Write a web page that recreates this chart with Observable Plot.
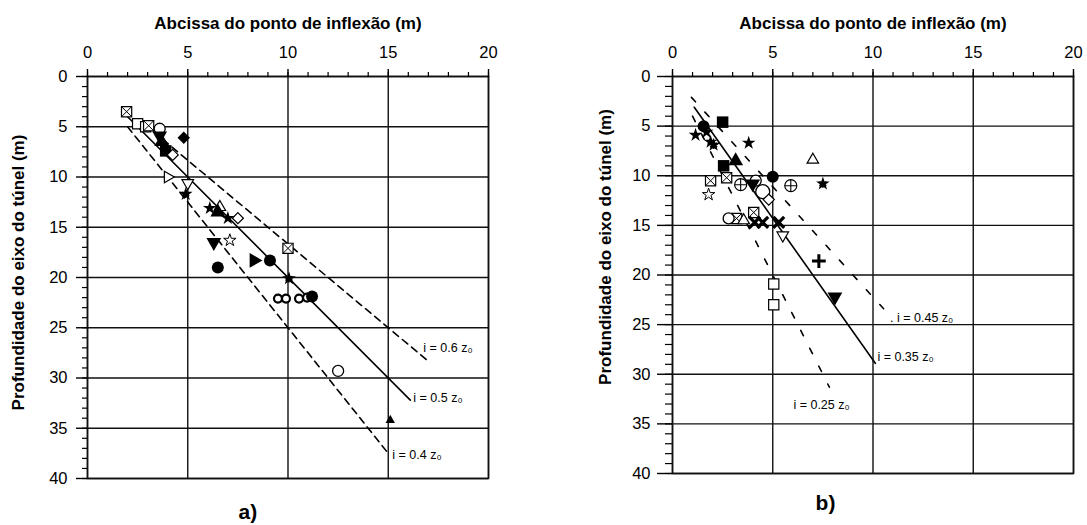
<!DOCTYPE html>
<html><head><meta charset="utf-8">
<script src="https://cdn.jsdelivr.net/npm/d3@7"></script>
<script src="https://cdn.jsdelivr.net/npm/@observablehq/plot@0.6"></script>
<style>
body{margin:0;background:#fff;}
#wrap{display:flex;width:1087px;height:525px;overflow:hidden;}
#a{width:543px;} #b{width:544px;}
</style></head><body><div id="wrap"><div id="a"></div><div id="b"></div></div>
<script>
// ---- shared text / ticks ----
const xTicks = [0, 5, 10, 15, 20];
const yTicks = [0, 5, 10, 15, 20, 25, 30, 35, 40];
const xTitle = "Abcissa do ponto de inflexão (m)";
const yTitle = "Profundidade do eixo do túnel (m)";

// ---- panel a) ----
const aX = [1.95,2.5,2.9,3.05,3.6,4.8,3.6,3.7,3.9,4.25,4.0,5.0,4.9,6.1,6.6,6.5,7.0,7.5,6.3,7.1,6.5,8.3,9.1,10.0,10.05,9.5,9.9,10.55,10.95,11.2,12.5,15.1];
const aZ = [3.5,4.7,5.0,4.9,5.2,6.1,5.9,6.5,7.4,7.8,10.0,10.6,11.7,13.1,13.0,13.5,14.1,14.1,16.5,16.3,19.0,18.3,18.3,17.1,20.1,22.1,22.1,22.1,22.0,21.9,29.3,34.2];
const aMarker = ["sqX","sq","sq","sqX","circ","diaF","triDF","triF","sqF","dia","triR","triD","asterF","starF","tri","triF","starF","dia","triDF","star","circF","triRF","circF","sqX","asterF","circS","circS","circS","circS","circF","circ","triSF"];
const aLineK = [0.6, 0.5, 0.4];
const aLineZStart = [5.5, 4.0, 5.0];
const aLineZEnd = [28.2, 32.2, 37.4];
const aLineDashed = [true, false, true];
const aLabels = ["i = 0.6 z₀", "i = 0.5 z₀", "i = 0.4 z₀"];
const aLabelX = [16.75, 16.25, 15.2];
const aLabelZ = [27.0, 32.0, 37.7];
const aCaption = "a)";

// ---- panel b) ----
const bX = [1.55,1.15,1.7,1.9,2.05,2.5,3.8,3.15,2.55,1.9,1.8,2.7,3.4,4.0,4.15,5.0,5.9,7.0,7.5,4.5,4.8,2.8,3.2,3.55,4.05,4.1,4.5,5.3,5.5,7.3,8.1,5.05,5.05];
const bZ = [5.0,5.9,5.6,6.6,6.9,4.6,6.7,8.5,9.0,10.5,11.9,10.2,10.9,10.8,10.5,10.1,11.0,8.4,10.8,11.6,12.4,14.3,14.3,14.5,13.7,14.7,14.7,14.7,16.0,18.6,22.2,20.9,23.0];
const bMarker = ["circF","starF","starF","starF","asterF","sqF","starF","triF","sqF","sqX","star","sqX","circPlus","triDF","circ","circF","circPlus","tri","asterF","circL","dia","circ","sqX","tri","sqX","timesB","timesB","timesB","triD","plusB","triDF","sq","sq"];
const bLineK = [0.45, 0.35, 0.25];
const bLineZStart = [2.1, 3.1, 4.0];
const bLineZEnd = [23.4, 28.9, 31.3];
const bLineDashed = [true, false, true];
const bLabels = [". i = 0.45 z₀", "i = 0.35 z₀", "i = 0.25 z₀"];
const bLabelX = [10.85, 10.22, 6.03];
const bLabelZ = [24.3, 28.3, 33.1];
const bCaption = "b)";

// ---- marker appearance ----
const markerStyles = {
  sq:     [{symbol:"square2", r:6.5, fill:"white", stroke:"black", sw:1.2}],
  sqX:    [{symbol:"square2", r:6.5, fill:"white", stroke:"black", sw:1.2},{symbol:"times", r:4.5, stroke:"black", sw:1}],
  sqF:    [{symbol:"square", r:6.5, fill:"black"}],
  circ:   [{symbol:"circle", r:5.5, fill:"white", stroke:"black", sw:1.3}],
  circL:  [{symbol:"circle", r:7, fill:"white", stroke:"black", sw:1.3}],
  circS:  [{symbol:"circle", r:4, fill:"white", stroke:"black", sw:2.2}],
  circPlus:[{symbol:"circle", r:6, fill:"white", stroke:"black", sw:1.2},{symbol:"plus", r:3.9, stroke:"black", sw:1.1}],
  dia:    [{symbol:"diamond2", r:5, fill:"white", stroke:"black", sw:1.2}],
  diaF:   [{symbol:"square", r:5, fill:"black", rotate:45}],
  tri:    [{symbol:"triangle2", r:5.5, fill:"white", stroke:"black", sw:1.2}],
  triF:   [{symbol:"triangle", r:5.5, fill:"black"}],
  triSF:  [{symbol:"triangle", r:3.5, fill:"black"}],
  triD:   [{symbol:"triangle2", r:5.5, fill:"white", stroke:"black", sw:1.2, rotate:180}],
  triDF:  [{symbol:"triangle", r:5.5, fill:"black", rotate:180}],
  triR:   [{symbol:"triangle2", r:5.5, fill:"white", stroke:"black", sw:1.2, rotate:90}],
  triRF:  [{symbol:"triangle", r:5.5, fill:"black", rotate:90}],
  star:   [{symbol:"star", r:3.9, fill:"white", stroke:"black", sw:1}],
  starF:  [{symbol:"star", r:4.3, fill:"black"}],
  asterF: [{symbol:"star", r:4.3, fill:"black"},{symbol:"asterisk", r:3.8, stroke:"black", sw:1.5}],
  circF:  [{symbol:"circle", r:6, fill:"black"}],
  timesB: [{symbol:"times", r:5, stroke:"black", sw:3.2}],
  plusB:  [{symbol:"plus", r:4.5, stroke:"black", sw:3}]
};

const FONT = "'Liberation Sans', Arial, sans-serif";

function makePanel(c) {
  const pts = c.X.map((x, i) => ({x, z: c.Z[i], m: c.M[i]}));
  const lineData = c.K.flatMap((k, i) => [c.Z0[i], c.Z1[i]].map(z => ({id: i, z, x: k * z, dashed: c.dashed[i]})));
  const labelData = c.labels.map((t, i) => ({t, x: c.LX[i], z: c.LZ[i]}));
  const dots = [];
  for (const [key, layers] of Object.entries(markerStyles)) {
    const sub = pts.filter(p => p.m === key);
    if (!sub.length) continue;
    for (const L of layers) {
      dots.push(Plot.dot(sub, {x: "x", y: "z", symbol: L.symbol, r: L.r,
        fill: L.fill ?? "none", stroke: L.stroke ?? "none", strokeWidth: L.sw ?? 1, rotate: L.rotate ?? 0}));
    }
  }
  const gridStyle = {stroke: "#111", strokeOpacity: 1, strokeWidth: 1.4};
  return Plot.plot({
    width: c.width, height: 525,
    marginLeft: c.ml, marginRight: c.mr, marginTop: 76, marginBottom: c.mb,
    style: {fontFamily: FONT, fontSize: "15px", color: "black", background: "white"},
    x: {domain: [0, 20]},
    y: {domain: [0, 40], reverse: true},
    marks: [
      Plot.gridX(xTicks, gridStyle),
      Plot.gridY(yTicks, gridStyle),
      Plot.frame({stroke: "#111", strokeWidth: 1.6}),
      Plot.axisX(d3.range(0, 21), {anchor: "top", tickSize: 5, tickFormat: () => "", label: null, strokeWidth: 1.2}),
      Plot.axisX(xTicks, {anchor: "top", tickSize: 8, tickPadding: 11, fontSize: 16.5, label: null, strokeWidth: 1.4}),
      Plot.axisY(d3.range(0, 41), {anchor: "left", tickSize: c.minorY, tickFormat: () => "", label: null, strokeWidth: 1.2}),
      Plot.axisY(yTicks, {anchor: "left", tickSize: c.majorY, tickPadding: c.padY, fontSize: 16.5, label: null, strokeWidth: 1.4}),
      Plot.line(lineData.filter(d => !d.dashed), {x: "x", y: "z", z: "id", stroke: "black", strokeWidth: 1.6}),
      Plot.line(lineData.filter(d => d.dashed), {x: "x", y: "z", z: "id", stroke: "black", strokeWidth: 1.6, strokeDasharray: c.dash}),
      ...dots,
      Plot.text(labelData, {x: "x", y: "z", text: "t", textAnchor: "start", fontSize: 12.5, fill: "black"}),
      Plot.text([xTitle], {text: d => d, frameAnchor: "top", dy: -53, lineAnchor: "middle", textAnchor: "middle", fontWeight: "bold", fontSize: 17}),
      Plot.text([yTitle], {text: d => d, frameAnchor: "left", rotate: -90, dx: c.ytDx, dy: c.ytDy, lineAnchor: "middle", textAnchor: "middle", fontWeight: "bold", fontSize: 17}),
      Plot.text([{t: c.caption, x: c.capX}], {x: "x", text: "t", frameAnchor: "bottom", dy: c.capDy, lineAnchor: "middle", fontWeight: "bold", fontSize: 21})
    ]
  });
}

document.getElementById("a").append(makePanel({
  X: aX, Z: aZ, M: aMarker, K: aLineK, Z0: aLineZStart, Z1: aLineZEnd, dashed: aLineDashed,
  labels: aLabels, LX: aLabelX, LZ: aLabelZ, caption: aCaption, capX: 8.0,
  width: 543, ml: 87, mr: 55, mb: 47, minorY: 5, majorY: 11, padY: 9,
  ytDx: -69, ytDy: -5, capDy: 34, dash: "7,5"
}));
document.getElementById("b").append(makePanel({
  X: bX, Z: bZ, M: bMarker, K: bLineK, Z0: bLineZStart, Z1: bLineZEnd, dashed: bLineDashed,
  labels: bLabels, LX: bLabelX, LZ: bLabelZ, caption: bCaption, capX: 7.63,
  width: 544, ml: 129, mr: 14, mb: 52, minorY: 7, majorY: 15, padY: 7,
  ytDx: -67, ytDy: -28, capDy: 30, dash: "6,14"
}));
</script></body></html>
